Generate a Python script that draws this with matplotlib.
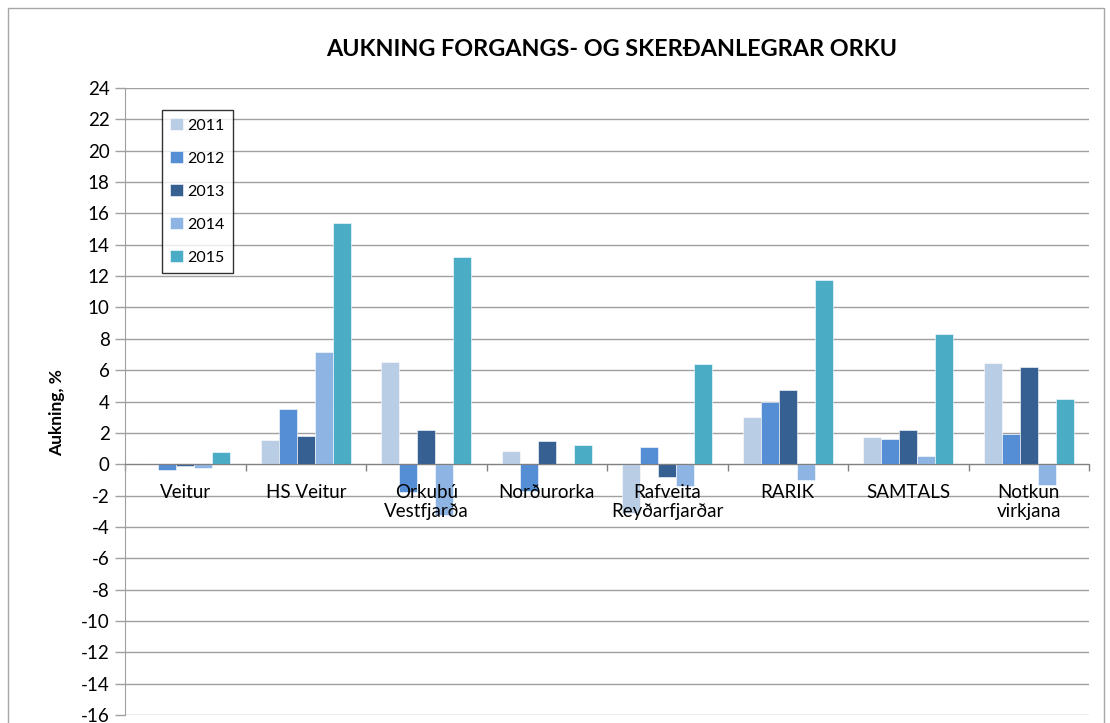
import matplotlib
matplotlib.use("Agg")
import matplotlib.pyplot as plt
from matplotlib.patches import Rectangle
import numpy as np

plt.rcParams['font.family'] = ['Lato', 'DejaVu Sans']

categories = ["Veitur", "HS Veitur", "Orkubú\nVestfjarða", "Norðurorka",
              "Rafveita\nReyðarfjarðar", "RARIK", "SAMTALS", "Notkun\nvirkjana"]
years = ["2011", "2012", "2013", "2014", "2015"]
v2011 = [0.1, 1.55, 6.55, 0.85, -3.1, 3.0, 1.75, 6.45]
v2012 = [-0.4, 3.55, -1.8, -1.7, 1.1, 4.0, 1.6, 1.95]
v2013 = [-0.1, 1.8, 2.15, 1.5, -0.8, 4.75, 2.2, 6.2]
v2014 = [-0.25, 7.15, -3.25, 0.0, -1.4, -1.0, 0.55, -1.3]
v2015 = [0.75, 15.4, 13.25, 1.2, 6.4, 11.75, 8.3, 4.15]
series = [v2011, v2012, v2013, v2014, v2015]
colors = ["#B9CDE5", "#558ED5", "#376092", "#8EB4E3", "#4BACC6"]
yticks = list(range(-16, 25, 2))

fig = plt.figure(figsize=(11.1, 7.23), dpi=100)
# outer chart border
fig.patches.append(Rectangle((8/1110, -0.05), (1104-8)/1110, 1.05 - 8/723,
                             transform=fig.transFigure, fill=False,
                             edgecolor="#A6A6A6", linewidth=1.0))
ax = fig.add_axes([125/1110, 1 - 715/723, (1089-125)/1110, (715-88)/723])

n = len(categories)
x = np.arange(n)
bw = 0.15
for i, (vals, c, yr) in enumerate(zip(series, colors, years)):
    ax.bar(x + (i - 2) * bw, vals, width=bw, color=c, label=yr, zorder=3,
           edgecolor="white", linewidth=0.4)

ax.set_xlim(-0.5, n - 0.5)
ax.set_ylim(-16, 24)
ax.set_yticks(yticks)
ax.set_yticklabels([str(t) for t in yticks], fontsize=13.5)
ax.yaxis.grid(True, color="#A0A0A0", linewidth=1.0, zorder=0)
ax.set_axisbelow(True)
ax.tick_params(axis='y', direction='out', length=7, color="#A0A0A0", width=1, pad=4)

for s in ['top', 'right']:
    ax.spines[s].set_visible(False)
ax.spines['left'].set_color("#A0A0A0")
ax.spines['bottom'].set_position(('data', 0))
ax.spines['bottom'].set_color("#808080")
ax.spines['bottom'].set_zorder(4)
ax.set_xticks(np.arange(-0.5, n, 1.0))
ax.set_xticklabels([])
ax.tick_params(axis='x', direction='out', length=5, color="#808080", width=1)

for xi, lab in zip(x, categories):
    ax.text(xi, -1.25, lab, ha='center', va='top', fontsize=13.5,
            linespacing=1.15, zorder=5)

ax.set_ylabel("Aukning, %", fontsize=12.5, fontweight='bold')
ax.yaxis.set_label_coords((65 - 125) / 964, (715 - 413) / 627)

fig.text(612/1110, 1 - 50/723, "AUKNING FORGANGS- OG SKERÐANLEGRAR ORKU",
         ha='center', va='center', fontsize=16.8, fontweight='bold')

leg = ax.legend(loc='upper left', bbox_to_anchor=(37/964, 1 - 22/627),
                fontsize=11.5, frameon=True, fancybox=False, edgecolor="black",
                labelspacing=1.15, handlelength=0.8, handleheight=0.8,
                handletextpad=0.3, borderpad=0.5, borderaxespad=0)
leg.get_frame().set_linewidth(1.0)
leg.set_zorder(6)

fig.savefig("out.png", dpi=100)
